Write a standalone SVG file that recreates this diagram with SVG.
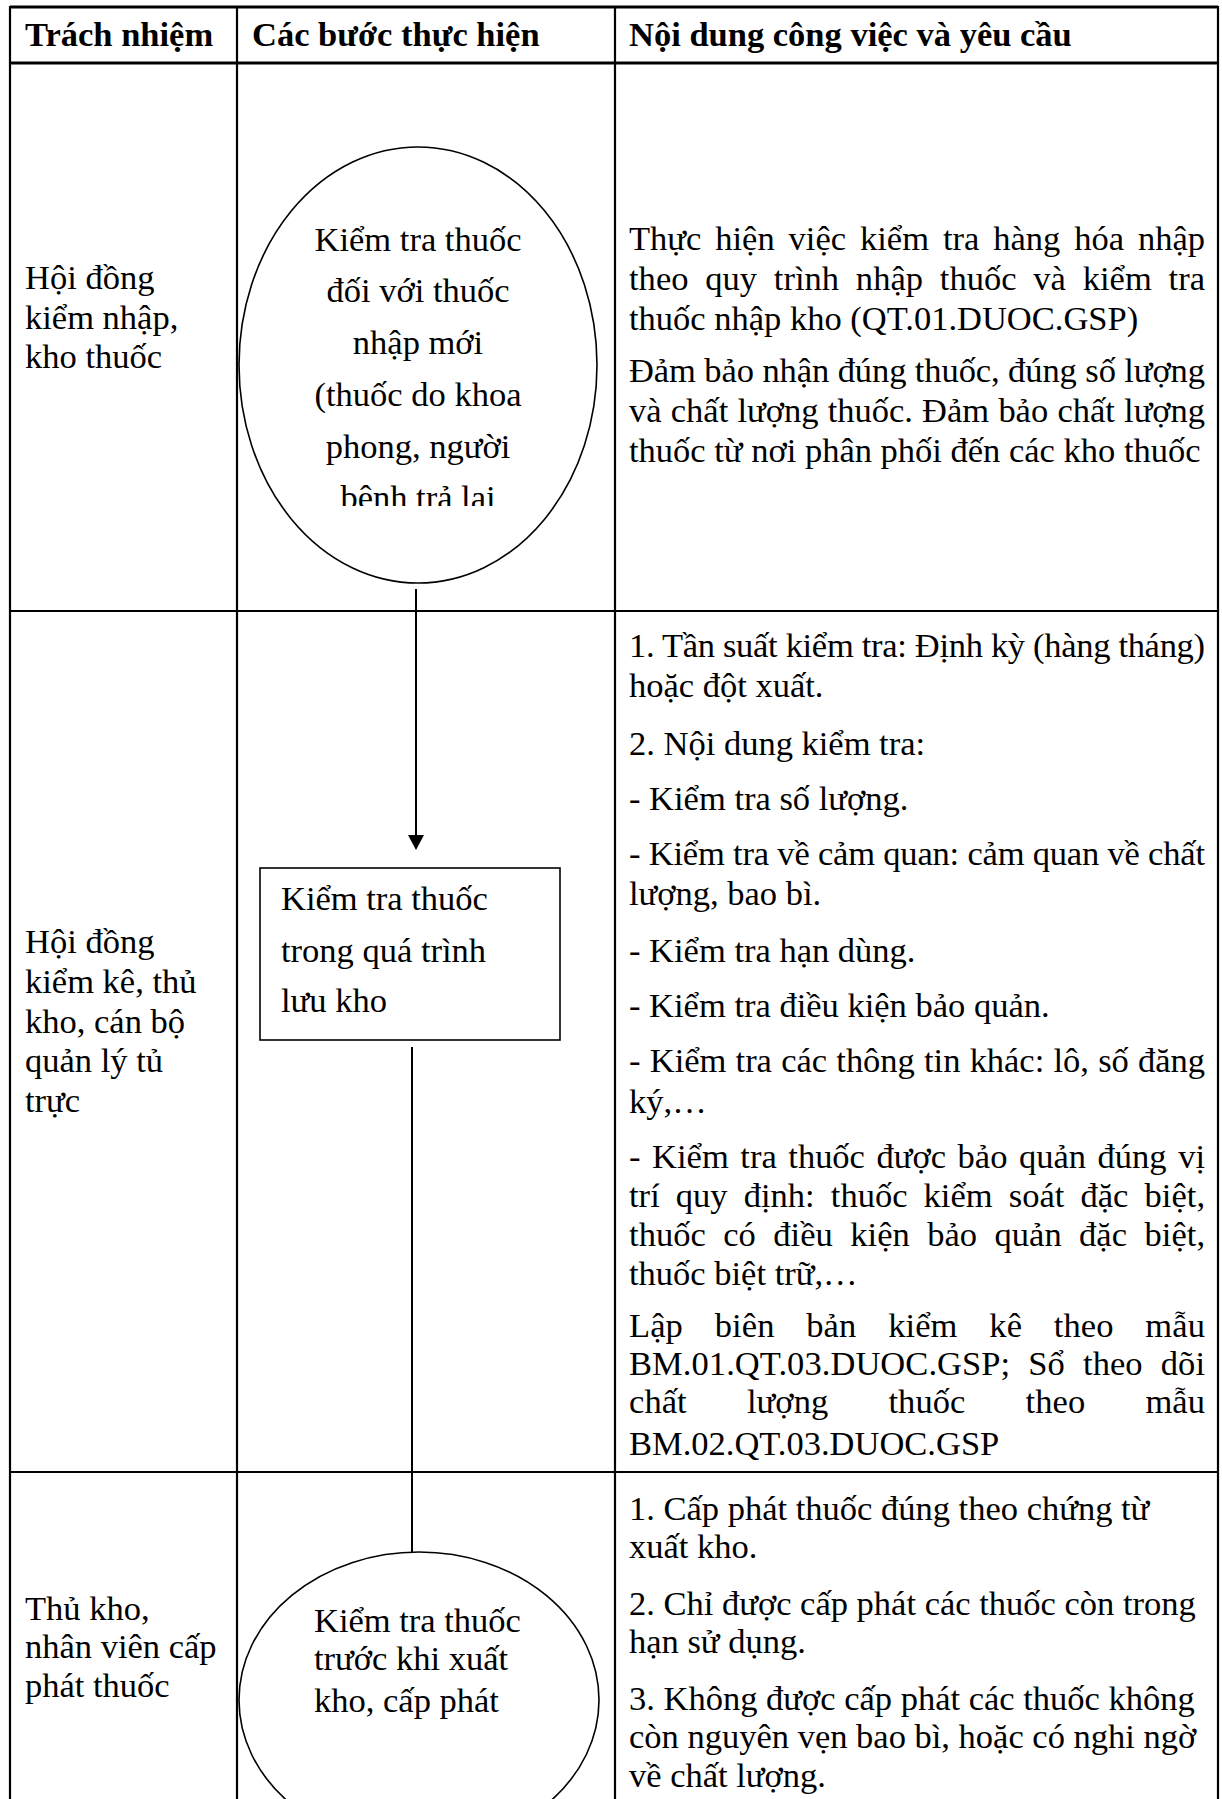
<svg xmlns="http://www.w3.org/2000/svg" width="1222" height="1799" viewBox="0 0 1222 1799">
<style>
text{font-family:"Liberation Serif","Times New Roman",serif;font-size:34.5px;fill:#000}
.h{font-weight:bold}
.grid{stroke:#000;stroke-width:2.2;fill:none}
.thick{stroke:#000;stroke-width:3.2;fill:none}
.shape{stroke:#000;stroke-width:1.6;fill:#fff}
.conn{stroke:#000;stroke-width:2;fill:none}
</style>
<defs>
<clipPath id="cut"><rect x="240" y="470" width="370" height="36"/></clipPath>
</defs>
<rect width="1222" height="1799" fill="#fff"/>
<g id="table">
<line class="thick" x1="10" y1="7" x2="1218" y2="7"/>
<line class="thick" x1="10" y1="63" x2="1218" y2="63"/>
<line class="grid" x1="10" y1="611" x2="1218" y2="611"/>
<line class="grid" x1="10" y1="1472" x2="1218" y2="1472"/>
<line class="grid" x1="10" y1="6" x2="10" y2="1799"/>
<line class="grid" x1="237" y1="6" x2="237" y2="1799"/>
<line class="grid" x1="615" y1="6" x2="615" y2="1799"/>
<line class="grid" x1="1218" y1="6" x2="1218" y2="1799"/>
</g>
<g id="header">
<text class="h" x="25" y="46">Trách nhiệm</text>
<text class="h" x="252" y="46">Các bước thực hiện</text>
<text class="h" x="629" y="46">Nội dung công việc và yêu cầu</text>
</g>
<g id="connectors">
<line class="conn" x1="416" y1="589" x2="416" y2="837"/>
<polygon points="408,835 424,835 416,850" fill="#000"/>
<line class="conn" x1="412" y1="1047" x2="412" y2="1553"/>
</g>
<g id="resp1">
<text x="25" y="289">Hội đồng</text>
<text x="25" y="329">kiểm nhập,</text>
<text x="25" y="368">kho thuốc</text>
</g>
<g id="step1">
<ellipse class="shape" cx="418" cy="365" rx="179" ry="218"/>
<g text-anchor="middle">
<text x="418" y="251">Kiểm tra thuốc</text>
<text x="418" y="302">đối với thuốc</text>
<text x="418" y="354">nhập mới</text>
<text x="418" y="406">(thuốc do khoa</text>
<text x="418" y="458">phong, người</text>
<text x="418" y="509" clip-path="url(#cut)">bênh trả lai</text>
</g>
</g>
<g id="desc1">
<text x="629" y="250" word-spacing="5.3" textLength="576" lengthAdjust="spacing">Thực hiện việc kiểm tra hàng hóa nhập</text>
<text x="629" y="290" word-spacing="8.1" textLength="576" lengthAdjust="spacing">theo quy trình nhập thuốc và kiểm tra</text>
<text x="629" y="330">thuốc nhập kho (QT.01.DUOC.GSP)</text>
<text x="629" y="382" textLength="576" lengthAdjust="spacing">Đảm bảo nhận đúng thuốc, đúng số lượng</text>
<text x="629" y="422" word-spacing="0.7" textLength="576" lengthAdjust="spacing">và chất lượng thuốc. Đảm bảo chất lượng</text>
<text x="629" y="462">thuốc từ nơi phân phối đến các kho thuốc</text>
</g>
<g id="resp2">
<text x="25" y="953">Hội đồng</text>
<text x="25" y="993">kiểm kê, thủ</text>
<text x="25" y="1033">kho, cán bộ</text>
<text x="25" y="1072">quản lý tủ</text>
<text x="25" y="1112">trực</text>
</g>
<g id="step2">
<rect class="shape" x="260" y="868" width="300" height="172"/>
<text x="281" y="910">Kiểm tra thuốc</text>
<text x="281" y="962">trong quá trình</text>
<text x="281" y="1012">lưu kho</text>
</g>
<g id="desc2">
<text x="629" y="657" textLength="576" lengthAdjust="spacing">1. Tần suất kiểm tra: Định kỳ (hàng tháng)</text>
<text x="629" y="697">hoặc đột xuất.</text>
<text x="629" y="755">2. Nội dung kiểm tra:</text>
<text x="629" y="810">- Kiểm tra số lượng.</text>
<text x="629" y="865" textLength="576" lengthAdjust="spacing">- Kiểm tra về cảm quan: cảm quan về chất</text>
<text x="629" y="905">lượng, bao bì.</text>
<text x="629" y="962">- Kiểm tra hạn dùng.</text>
<text x="629" y="1017">- Kiểm tra điều kiện bảo quản.</text>
<text x="629" y="1072" word-spacing="0.7" textLength="576" lengthAdjust="spacing">- Kiểm tra các thông tin khác: lô, số đăng</text>
<text x="629" y="1113">ký,…</text>
<text x="629" y="1168" word-spacing="3" textLength="576" lengthAdjust="spacing">- Kiểm tra thuốc được bảo quản đúng vị</text>
<text x="629" y="1207" word-spacing="7.4" textLength="576" lengthAdjust="spacing">trí quy định: thuốc kiểm soát đặc biệt,</text>
<text x="629" y="1246" word-spacing="8.7" textLength="576" lengthAdjust="spacing">thuốc có điều kiện bảo quản đặc biệt,</text>
<text x="629" y="1285">thuốc biệt trữ,…</text>
<text x="629" y="1337" word-spacing="23" textLength="576" lengthAdjust="spacing">Lập biên bản kiểm kê theo mẫu</text>
<text x="629" y="1375" word-spacing="9.4" textLength="576" lengthAdjust="spacing">BM.01.QT.03.DUOC.GSP; Sổ theo dõi</text>
<text x="629" y="1413" word-spacing="51.5" textLength="576" lengthAdjust="spacing">chất lượng thuốc theo mẫu</text>
<text x="629" y="1455">BM.02.QT.03.DUOC.GSP</text>
</g>
<g id="resp3">
<text x="25" y="1620">Thủ kho,</text>
<text x="25" y="1658">nhân viên cấp</text>
<text x="25" y="1697">phát thuốc</text>
</g>
<g id="step3">
<ellipse class="shape" cx="419" cy="1700" rx="180" ry="148"/>
<text x="314" y="1632">Kiểm tra thuốc</text>
<text x="314" y="1670">trước khi xuất</text>
<text x="314" y="1712">kho, cấp phát</text>
</g>
<g id="desc3">
<text x="629" y="1520">1. Cấp phát thuốc đúng theo chứng từ</text>
<text x="629" y="1558">xuất kho.</text>
<text x="629" y="1615">2. Chỉ được cấp phát các thuốc còn trong</text>
<text x="629" y="1653">hạn sử dụng.</text>
<text x="629" y="1710">3. Không được cấp phát các thuốc không</text>
<text x="629" y="1748">còn nguyên vẹn bao bì, hoặc có nghi ngờ</text>
<text x="629" y="1787">về chất lượng.</text>
</g>
</svg>
